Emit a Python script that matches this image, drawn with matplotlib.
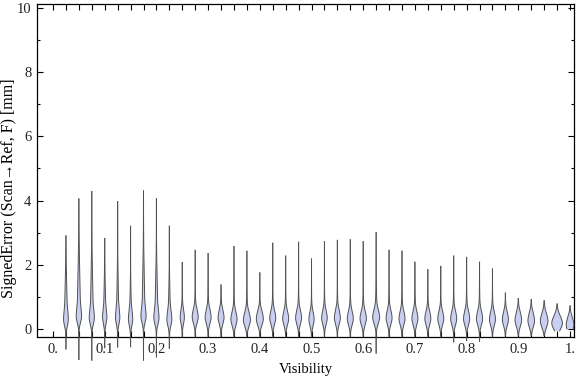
import matplotlib
matplotlib.use("Agg")
import matplotlib.pyplot as plt
import numpy as np

# visibility bins (violin positions)
visibility = [0.025, 0.05, 0.075, 0.1, 0.125, 0.15, 0.175, 0.2, 0.225, 0.25,
              0.275, 0.3, 0.325, 0.35, 0.375, 0.4, 0.425, 0.45, 0.475, 0.5,
              0.525, 0.55, 0.575, 0.6, 0.625, 0.65, 0.675, 0.7, 0.725, 0.75,
              0.775, 0.8, 0.825, 0.85, 0.875, 0.9, 0.925, 0.95, 0.975, 1.0]

# max signed error in each bin [mm]
err_max = [2.90, 4.05, 4.28, 2.82, 3.97, 3.20, 4.30, 4.06, 3.20, 2.07,
           2.45, 2.35, 1.37, 2.57, 2.42, 1.75, 2.67, 2.27, 2.70, 2.18,
           2.72, 2.76, 2.78, 2.72, 3.00, 2.45, 2.42, 2.08, 1.85, 1.95,
           2.27, 2.23, 2.08, 1.87, 1.12, 0.95, 0.92, 0.88, 0.78, 0.72]

# min signed error in each bin [mm]
err_min = [-0.62, -0.95, -0.97, -0.58, -0.56, -0.55, -0.97, -0.87, -0.60, -0.24,
           -0.22, -0.22, -0.22, -0.22, -0.22, -0.22, -0.22, -0.22, -0.22, -0.22,
           -0.22, -0.22, -0.22, -0.22, -0.75, -0.22, -0.22, -0.22, -0.22, -0.22,
           -0.40, -0.36, -0.38, -0.22, -0.20, -0.20, -0.20, -0.20, -0.06, 0.00]

# location of the density peak [mm]
err_mode = [0.30, 0.40, 0.35, 0.35, 0.35, 0.30, 0.40, 0.35, 0.30, 0.36,
            0.38, 0.36, 0.35, 0.30, 0.28, 0.32, 0.34, 0.32, 0.34, 0.30,
            0.34, 0.34, 0.32, 0.32, 0.36, 0.34, 0.32, 0.32, 0.32, 0.32,
            0.32, 0.32, 0.32, 0.30, 0.30, 0.28, 0.26, 0.25, 0.18, 0.13]

# peak half width of each violin (pixels)
peak_halfwidth = [2.4, 2.7, 2.6, 2.2, 2.2, 2.2, 2.6, 2.6, 2.5, 2.1,
                  3.0, 3.0, 3.0, 3.1, 3.5, 3.5, 3.0, 3.0, 3.0, 2.6,
                  2.8, 3.0, 3.0, 3.2, 3.5, 3.0, 3.0, 3.0, 3.0, 3.0,
                  3.0, 3.1, 3.1, 3.0, 3.0, 3.3, 3.3, 3.8, 5.3, 3.8]

# share of the density in the long upper body, and its spread [mm]
body_share = [0.55, 0.55, 0.50, 0.45, 0.45, 0.40, 0.50, 0.50, 0.40, 0.15,
              0.14, 0.14, 0.12, 0.14, 0.14, 0.12, 0.14, 0.14, 0.14, 0.12,
              0.14, 0.14, 0.14, 0.14, 0.18, 0.14, 0.14, 0.14, 0.12, 0.12,
              0.14, 0.14, 0.14, 0.14, 0.10, 0.10, 0.10, 0.10, 0.06, 0.06]
body_spread = [1.0, 1.3, 1.2, 0.9, 1.0, 0.7, 1.2, 1.1, 0.8, 0.6,
               0.6, 0.6, 0.5, 0.6, 0.6, 0.5, 0.6, 0.6, 0.6, 0.5,
               0.6, 0.6, 0.6, 0.6, 0.7, 0.6, 0.6, 0.6, 0.5, 0.5,
               0.6, 0.6, 0.6, 0.5, 0.4, 0.4, 0.4, 0.4, 0.3, 0.3]

plt.rcParams['font.family'] = ['Liberation Serif', 'DejaVu Serif']

fig = plt.figure(figsize=(5.76, 3.77), dpi=100)
ax = fig.add_axes([37 / 576, 40 / 377, 537 / 576, 333 / 377])

xmin, xmax = -0.031, 1.0077
ymin, ymax = -0.249, 10.12
px_per_x = 537 / (xmax - xmin)

fill_c = '#c9cff3'
edge_c = '#505050'

for i, x in enumerate(visibility):
    y = np.linspace(err_min[i], err_max[i], 400)
    m = err_mode[i]
    core_s = np.where(y < m, 0.2, 0.22)
    up_s = np.where(y < m, 0.2, body_spread[i])
    t = body_share[i]
    h = (1 - t) * np.exp(-0.5 * ((y - m) / core_s) ** 2) + t * np.exp(-0.5 * ((y - m) / up_s) ** 2)
    h = h / h.max() * peak_halfwidth[i] / px_per_x
    ax.fill_betweenx(y, x - h, x + h, facecolor=fill_c, edgecolor='none', clip_on=False, zorder=2)
    ax.plot(x - h, y, color=edge_c, lw=0.7, clip_on=False, zorder=3)
    ax.plot(x + h, y, color=edge_c, lw=0.7, clip_on=False, zorder=3)

ax.set_xlim(xmin, xmax)
ax.set_ylim(ymin, ymax)

xticks = [0.0] + visibility
xlabels = []
for v in xticks:
    if abs(v * 10 - round(v * 10)) < 1e-9:
        if v == 0:
            xlabels.append('0.')
        elif v == 1:
            xlabels.append('1.')
        else:
            xlabels.append('%.1f' % v)
    else:
        xlabels.append('')
ax.set_xticks(xticks)
ax.set_xticklabels(xlabels)
ax.set_yticks([0, 2, 4, 6, 8, 10])
ax.set_yticks([1, 3, 5, 7, 9], minor=True)

ax.tick_params(direction='in', length=4, width=0.8, top=True, right=True,
               labelsize=10.5, labelcolor='#222222', pad=4)
ax.tick_params(which='minor', direction='in', length=2.5, width=0.8, right=True)
for s in ax.spines.values():
    s.set_linewidth(0.9)

ax.set_xlabel('Visibility', fontsize=10.5, labelpad=5)
fig.text(9 / 576, 0.5, 'SignedError (Scan\u2192Ref, F) [mm]', fontsize=11.5,
         rotation=90, ha='center', va='center')

fig.savefig('out.png', dpi=100)
